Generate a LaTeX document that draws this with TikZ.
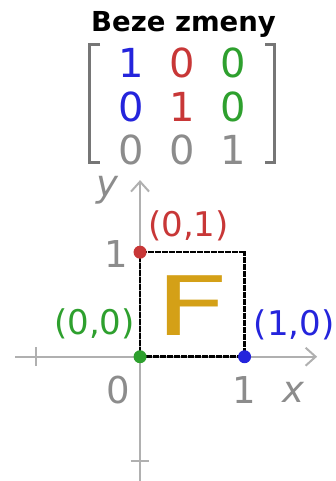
\documentclass[tikz,border=0pt]{standalone}
\usepackage{fontspec}
\setmainfont{DejaVu Sans}
\usetikzlibrary{arrows.meta}
\definecolor{osaSeda}{HTML}{B0B0B0}
\definecolor{textSeda}{HTML}{8C8C8C}
\definecolor{zavorkaSeda}{HTML}{767676}
\definecolor{modra}{HTML}{2424DC}
\definecolor{cervena}{HTML}{C83737}
\definecolor{zelena}{HTML}{2EA02E}
\definecolor{zlata}{HTML}{D4A017}
\tikzset{
  osa/.style={osaSeda,line width=2pt},
  bod/.style={circle,inner sep=0pt,minimum size=13pt},
  popis/.style={font=\fontsize{34}{38}\selectfont},
  cislo/.style={textSeda,font=\fontsize{37}{40}\selectfont},
  prvek/.style={anchor=base,font=\fontsize{40}{42}\selectfont}
}
\begin{document}
\begin{tikzpicture}[x=104.5pt,y=104.5pt]
\useasboundingbox (-1.340,-1.189) rectangle (1.866,3.413);
% osy
\draw[osa,-{Straight Barb[length=10pt,width=18pt]}] (-1.196,0)--(1.694,0);
\draw[osa,-{Straight Barb[length=10pt,width=18pt]}] (0,-1.189)--(0,1.69);
\draw[osa] (-1,-0.09)--(-1,0.09);
\draw[osa] (-0.09,-1)--(0.09,-1);
\node[cislo] (nula) at (-0.211,-0.318) {0};
\node[cislo] (jednaX) at (0.995,-0.318) {1};
\node[cislo,font=\fontsize{37}{40}\selectfont\itshape] (osaX) at (1.464,-0.337) {x};
\node[cislo] (jednaY) at (-0.23,0.98) {1};
\node[cislo,font=\fontsize{37}{40}\selectfont\itshape] (osaY) at (-0.316,1.594) {y};
% ctverec a pismeno
\draw[black,line width=2.5pt,dash pattern=on 3pt off 0.5pt] (0,0) rectangle (1,1);
\node[zlata,font=\fontsize{82}{84}\selectfont,xscale=1.6] (pismeno) at (0.5,0.49) {F};
\node[bod,fill=zelena] (b00) at (0,0) {};
\node[bod,fill=modra] (b10) at (1,0) {};
\node[bod,fill=cervena] (b01) at (0,1) {};
\node[popis,zelena] (p00) at (-0.435,0.313) {(0,0)};
\node[popis,modra] (p10) at (1.474,0.303) {(1,0)};
\node[popis,cervena] (p01) at (0.464,1.248) {(0,1)};
% matice
\node[anchor=base,font=\fontsize{27.5}{30}\selectfont\bfseries] (nadpis) at (0.416,3.107) {Beze zmeny};
\node[prvek,modra] (m11) at (-0.086,2.670) {1};
\node[prvek,cervena] (m12) at (0.402,2.670) {0};
\node[prvek,zelena] (m13) at (0.890,2.670) {0};
\node[prvek,modra] (m21) at (-0.086,2.249) {0};
\node[prvek,cervena] (m22) at (0.402,2.249) {1};
\node[prvek,zelena] (m23) at (0.890,2.249) {0};
\node[prvek,textSeda] (m31) at (-0.086,1.838) {0};
\node[prvek,textSeda] (m32) at (0.402,1.838) {0};
\node[prvek,textSeda] (m33) at (0.890,1.838) {1};
\draw[zavorkaSeda,line width=3pt] (-0.383,2.983)--(-0.488,2.983)--(-0.488,1.863)--(-0.383,1.863);
\draw[zavorkaSeda,line width=3pt] (1.196,2.983)--(1.282,2.983)--(1.282,1.863)--(1.196,1.863);
\end{tikzpicture}
\end{document}
